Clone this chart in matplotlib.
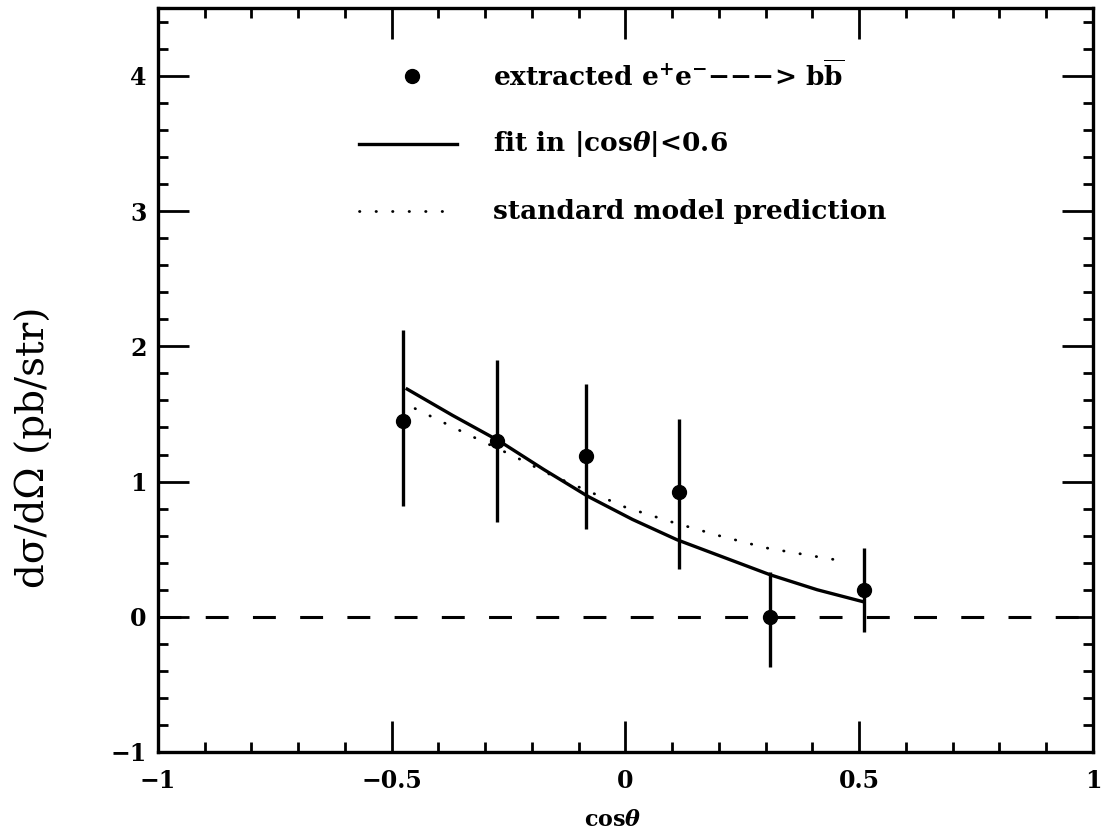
import numpy as np
import matplotlib
matplotlib.use("Agg")
import matplotlib.pyplot as plt
from matplotlib.ticker import MultipleLocator

plt.rcParams['font.family'] = ['DejaVu Serif']
plt.rcParams['mathtext.fontset'] = 'dejavuserif'
plt.rcParams['mathtext.default'] = 'bf'
plt.rcParams['lines.scale_dashes'] = False

# data points
cos_theta = [-0.475, -0.275, -0.085, 0.115, 0.31, 0.51]
dsigma = [1.45, 1.30, 1.19, 0.92, 0.00, 0.20]
err_hi = [2.12, 1.90, 1.72, 1.46, 0.33, 0.51]
err_lo = [0.82, 0.70, 0.65, 0.35, -0.37, -0.11]

# fit in |cos theta| < 0.6
fit_x = [-0.47, -0.37, -0.27, -0.175, -0.08, 0.015, 0.11, 0.21, 0.31, 0.41, 0.51]
fit_y = [1.69, 1.49, 1.30, 1.09, 0.89, 0.72, 0.57, 0.44, 0.31, 0.20, 0.11]

# standard model prediction
sm_x = [-0.45, -0.35, -0.24, -0.16, -0.08, 0.0, 0.10, 0.20, 0.30, 0.40, 0.47]
sm_y = [1.54, 1.37, 1.19, 1.05, 0.93, 0.81, 0.70, 0.60, 0.51, 0.45, 0.41]

fig = plt.figure(figsize=(11.07, 8.36), dpi=100)
ax = fig.add_axes([0.1427, 0.1005, 0.8446, 0.8895])

yerr = [np.array(dsigma) - np.array(err_lo), np.array(err_hi) - np.array(dsigma)]
ax.errorbar(cos_theta, dsigma, yerr=yerr, fmt='o', color='black', ms=10,
            elinewidth=2.4, capsize=0, zorder=4)
ax.plot(fit_x, fit_y, color='black', lw=2.4, solid_capstyle='butt', zorder=3)
ax.plot(sm_x, sm_y, color='black', lw=2.0, linestyle=(0, (0.3, 11.6)),
        dash_capstyle='round', zorder=3)
ax.axhline(0, color='black', lw=2.2, linestyle=(0, (16.5, 17.5)), zorder=2)

# legend drawn in data space
ax.plot([-0.456], [4.0], 'o', color='black', ms=10)
ax.plot([-0.57, -0.36], [3.5, 3.5], color='black', lw=2.4)
ax.plot([-0.57, -0.36], [3.0, 3.0], color='black', lw=2.0,
        linestyle=(0, (0.3, 11.6)), dash_capstyle='round')
fs = 19
ax.text(-0.283, 4.0, r"extracted e$^{+}$e$^{-}$−−−> b$\overline{\mathbf{b}}$",
        fontsize=fs, fontweight='bold', va='center', ha='left')
ax.text(-0.283, 3.5, r"fit in |cos$\mathbfit{\theta}$|<0.6",
        fontsize=fs, fontweight='bold', va='center', ha='left')
ax.text(-0.283, 3.0, "standard model prediction",
        fontsize=fs, fontweight='bold', va='center', ha='left')

ax.set_xlim(-1, 1)
ax.set_ylim(-1, 4.5)
ax.xaxis.set_major_locator(MultipleLocator(0.5))
ax.xaxis.set_minor_locator(MultipleLocator(0.1))
ax.yaxis.set_major_locator(MultipleLocator(1))
ax.yaxis.set_minor_locator(MultipleLocator(0.2))
ax.set_xticks([-1, -0.5, 0, 0.5, 1])
ax.set_xticklabels(['−1', '−0.5', '0', '0.5', '1'])
ax.set_yticks([-1, 0, 1, 2, 3, 4])
ax.set_yticklabels(['−1', '0', '1', '2', '3', '4'])
ax.tick_params(which='both', direction='in', top=True, right=True, width=2.0,
               labelsize=17, colors='black')
ax.tick_params(which='major', length=22)
ax.tick_params(which='minor', length=7)
ax.tick_params(axis='x', which='major', pad=12)
ax.tick_params(axis='y', which='major', pad=8)
for lab in ax.get_xticklabels() + ax.get_yticklabels():
    lab.set_fontweight('bold')
for sp in ax.spines.values():
    sp.set_linewidth(2.4)

fig.text(0.554, 0.019, r"cos$\mathbfit{\theta}$", fontsize=16, fontweight='bold',
         ha='center', va='center')
fig.text(0.030, 0.465, "dσ/dΩ (pb/str)",
         fontsize=28, rotation=90, ha='center', va='center')

fig.savefig("out.png", dpi=100, facecolor='white')
